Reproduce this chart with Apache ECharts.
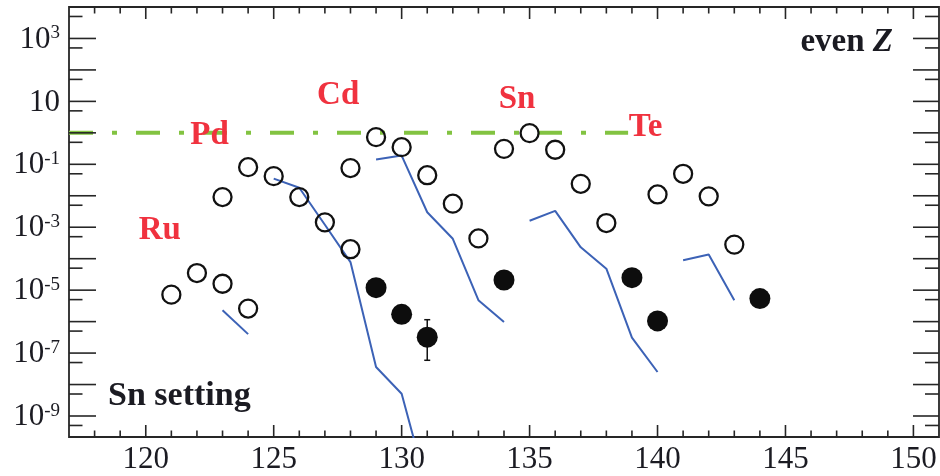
<!DOCTYPE html>
<html><head><meta charset="utf-8">
<script src="https://cdn.jsdelivr.net/npm/echarts@6/dist/echarts.min.js"></script>
<style>html,body{margin:0;padding:0;background:#fff}#c{width:940px;height:476px}</style>
</head><body><div id="c"></div>
<script>
// ---- data ----
const openX = [121,122,123,124, 123,124,125,126,127,128, 128,129,130,131,132,133, 134,135,136,137,138, 140,141,142,143];
const openY = [7.2e-6,3.5e-5,1.6e-5,2.6e-6, 9.1e-3,8.1e-2,4.2e-2,9.1e-3,1.43e-3,2.0e-4, 7.6e-2,0.73,0.35,4.5e-2,5.6e-3,4.4e-4, 0.31,0.98,0.29,2.4e-2,1.36e-3, 1.1e-2,5.0e-2,9.6e-3,2.8e-4];
const filledX = [129,130,131,134,139,140,144];
const filledY = [1.2e-5,1.7e-6,3.2e-7,2.1e-5,2.5e-5,1.05e-6,5.4e-6];
const errX = [131];
const errLow = [5.9e-8];
const errHigh = [1.15e-6];
const ruLineX = [123,124];
const ruLineY = [2.3e-6,4.0e-7];
const pdLineX = [125,126,127,128,129,130,131];
const pdLineY = [3.5e-2,1.8e-2,1.2e-3,7.8e-5,3.6e-8,5.1e-9,5e-12];
const cdLineX = [129,130,131,132,133,134];
const cdLineY = [0.143,0.19,3.0e-3,4.3e-4,4.8e-6,9.8e-7];
const snLineX = [135,136,137,138,139,140];
const snLineY = [1.6e-3,3.3e-3,2.3e-4,4.8e-5,3.1e-7,2.5e-8];
const teLineX = [141,142,143];
const teLineY = [8.9e-5,1.35e-4,4.8e-6];
const refLineX = [117,138.85];
const refLineY = [1,1];
const elemNames = ['Ru','Pd','Cd','Sn','Te'];
const elemX = [120.55,122.49,127.52,134.51,139.53];
const elemY = [8e-4,0.83,15.5,11.4,1.48];
const xMin = 117, xMax = 151, yMin = 2.15e-10, yMax = 1e4;
const xMajorTicks = [120,125,130,135,140,145,150];
const xMinorTicks = [118,119,121,122,123,124,126,127,128,129,131,132,133,134,136,137,138,139,141,142,143,144,146,147,148,149];
const yMajorTicks = [1e-9,1e-8,1e-7,1e-6,1e-5,1e-4,1e-3,1e-2,1e-1,1,10,100,1e3,1e4];
const yMinorTicks = [5e-10,5e-9,5e-8,5e-7,5e-6,5e-5,5e-4,5e-3,5e-2,0.5,5,50,500,5e3];
const yLabelVals = [1e3,10,1e-1,1e-3,1e-5,1e-7,1e-9];
const yLabelExp = ['3','','-1','-3','-5','-7','-9'];

// ---- styles ----
const AX = '#262626', TXT = '#1b1b22', RED = '#f0323f', GREEN = '#82c341', BLUE = '#3c62b6';
const SERIF = '"Liberation Serif","DejaVu Serif",serif';

function pairs(xs, ys){ return xs.map((x,i)=>[x, ys[i]]); }
function blueLine(xs, ys){
  return {type:'line', data:pairs(xs,ys), symbol:'none', silent:true, z:3,
    lineStyle:{color:BLUE, width:2}};
}
function xTicks(vals, len){
  return {type:'custom', silent:true, z:6, data:vals.map(v=>[v,1]),
    renderItem(params, api){
      const cs = params.coordSys;
      const px = api.coord([api.value(0), api.value(1)])[0];
      const b = cs.y + cs.height, t = cs.y;
      return {type:'group', children:[
        {type:'line', shape:{x1:px,y1:b,x2:px,y2:b-len}, style:{stroke:AX, lineWidth:1.6}},
        {type:'line', shape:{x1:px,y1:t,x2:px,y2:t+len}, style:{stroke:AX, lineWidth:1.6}}
      ]};
    }};
}
function yTicks(vals, lenL, lenR){
  return {type:'custom', silent:true, z:6, data:vals.map(v=>[xMin,v]),
    renderItem(params, api){
      const cs = params.coordSys;
      const py = api.coord([api.value(0), api.value(1)])[1];
      const l = cs.x, r = cs.x + cs.width;
      return {type:'group', children:[
        {type:'line', shape:{x1:l,y1:py,x2:l+lenL,y2:py}, style:{stroke:AX, lineWidth:1.6}},
        {type:'line', shape:{x1:r,y1:py,x2:r-lenR,y2:py}, style:{stroke:AX, lineWidth:1.6}}
      ]};
    }};
}

const chart = echarts.init(document.getElementById('c'), null, {renderer:'canvas'});
chart.setOption({
  animation:false,
  backgroundColor:'#fff',
  grid:{left:69, right:1, top:7, bottom:39, show:true, borderColor:AX, borderWidth:1.8, backgroundColor:'transparent'},
  xAxis:{type:'value', min:xMin, max:xMax,
    axisLine:{show:false}, axisTick:{show:false}, splitLine:{show:false},
    axisLabel:{show:true, margin:7, color:TXT, fontFamily:SERIF, fontSize:31,
      showMinLabel:false, showMaxLabel:false,
      formatter:v => (v % 5 === 0 ? String(v) : '')}},
  yAxis:{type:'log', logBase:10, min:yMin, max:yMax,
    axisLine:{show:false}, axisTick:{show:false}, splitLine:{show:false}, axisLabel:{show:false}},
  series:[
    {type:'line', data:pairs(refLineX, refLineY), symbol:'none', silent:true, z:2,
      lineStyle:{color:GREEN, width:4, type:[24,19,5,19], cap:'butt', opacity:1}},
    blueLine(ruLineX, ruLineY),
    blueLine(pdLineX, pdLineY),
    blueLine(cdLineX, cdLineY),
    blueLine(snLineX, snLineY),
    blueLine(teLineX, teLineY),
    {type:'scatter', data:pairs(openX, openY), symbol:'circle', symbolSize:18, silent:true, z:4,
      itemStyle:{color:'rgba(0,0,0,0)', borderColor:'#111', borderWidth:2.3, opacity:1}},
    {type:'scatter', data:pairs(filledX, filledY), symbol:'circle', symbolSize:21, silent:true, z:4,
      itemStyle:{color:'#0d0d0d', opacity:1}},
    {type:'custom', silent:true, z:4, data:errX.map((x,i)=>[x, errLow[i], errHigh[i]]),
      encode:{x:0, y:[1,2]},
      renderItem(params, api){
        const lo = api.coord([api.value(0), api.value(1)]);
        const hi = api.coord([api.value(0), api.value(2)]);
        const w = 3;
        const st = {stroke:'#111', lineWidth:1.5};
        return {type:'group', children:[
          {type:'line', shape:{x1:lo[0],y1:lo[1],x2:hi[0],y2:hi[1]}, style:st},
          {type:'line', shape:{x1:lo[0]-w,y1:lo[1],x2:lo[0]+w,y2:lo[1]}, style:st},
          {type:'line', shape:{x1:hi[0]-w,y1:hi[1],x2:hi[0]+w,y2:hi[1]}, style:st}
        ]};
      }},
    {type:'scatter', data:elemNames.map((n,i)=>({name:n, value:[elemX[i], elemY[i]]})),
      symbolSize:1, itemStyle:{color:'rgba(0,0,0,0)', opacity:1}, silent:true, z:7,
      label:{show:true, position:'inside', formatter:'{b}', color:RED, fontFamily:SERIF,
        fontWeight:'bold', fontSize:33, opacity:1}},
    xTicks(xMajorTicks, 12),
    xTicks(xMinorTicks, 6.5),
    yTicks(yMajorTicks, 27, 26),
    yTicks(yMinorTicks, 13.5, 14),
    {type:'custom', silent:true, z:6, data:yLabelVals.map(v=>[xMin, v]),
      renderItem(params, api){
        const cs = params.coordSys;
        const py = api.coord([api.value(0), api.value(1)])[1];
        const e = yLabelExp[params.dataIndex];
        return {type:'text', x:cs.x - 9, y:py + 1,
          style:{text: e ? '{b|10}{s|' + e + '}' : '{b|10}',
            align:'right', verticalAlign:'middle', fill:TXT,
            fontFamily:SERIF, fontSize:31,
            rich:{b:{fontSize:31, fontFamily:SERIF, fill:TXT},
                  s:{fontSize:19, fontFamily:SERIF, fill:TXT, verticalAlign:'top', padding:[0,0,3,0]}}}};
      }}
  ],
  graphic:[
    {type:'text', x:108, y:396, silent:true,
      style:{text:'Sn setting', align:'left', verticalAlign:'middle', fill:TXT,
        font:'bold 34px ' + SERIF}},
    {type:'text', x:893, y:42, silent:true,
      style:{text:'{a|even }{b|Z}', align:'right', verticalAlign:'middle', fill:TXT,
        font:'bold 33px ' + SERIF,
        rich:{a:{font:'bold 33px ' + SERIF, fill:TXT}, b:{font:'italic bold 33px ' + SERIF, fill:TXT}}}}
  ]
});
</script></body></html>
